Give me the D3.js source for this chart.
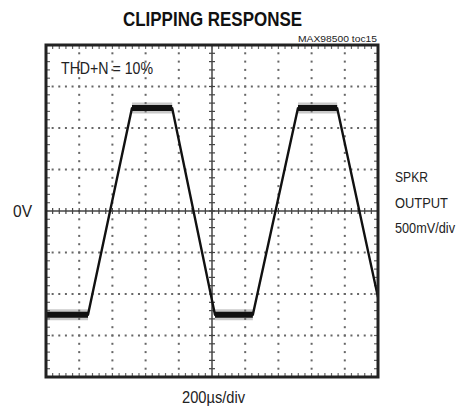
<!DOCTYPE html>
<html>
<head>
  <meta charset="utf-8">
  <style>
    body { margin: 0; background: #fff; }
    svg text { font-family: "Liberation Sans", Arial, sans-serif; fill: #222; }
  </style>
</head>
<body>
  <svg width="468" height="412"></svg>
  <script src="https://cdn.jsdelivr.net/npm/d3@7"></script>
  <script>
    // waveform corners (time in us, level in V)
    var timeUs = [0, 253, 518, 760, 1018, 1246, 1518, 1754, 2000];
    var volts = [-1.25, -1.25, 1.24, 1.24, -1.25, -1.25, 1.24, 1.24, -1.04];
    // flat (clipped) stretches, as index pairs into the arrays above
    var clipped = [[0, 1], [2, 3], [4, 5], [6, 7]];

    var xDivs = d3.range(0, 2001, 200);    // 200us/div
    var yDivs = d3.range(-2, 2.01, 0.5);   // 500mV/div

    var svg = d3.select("svg"),
      padL = 46, padT = 45, w = 332, h = 332;

    var x = d3.scaleLinear().domain([0, 2000]).range([padL, padL + w]);
    var y = d3.scaleLinear().domain([-2, 2]).range([padT + h, padT]);

    var xMinor = d3.range(0, 2001, 40);
    var yMinor = d3.range(-2, 2.001, 0.1);

    var grid = svg.append("g");

    // dotted graticule
    yDivs.slice(1, -1).filter(function (v) { return v !== 0; }).forEach(function (v) {
      grid.append("g").selectAll("rect")
        .data(xMinor)
        .enter().append("rect")
        .attr("x", function (d) { return x(d) - 1; })
        .attr("y", y(v) - 1)
        .attr("width", 2).attr("height", 2)
        .attr("fill", "#666");
    });
    xDivs.slice(1, -1).filter(function (v) { return v !== 1000; }).forEach(function (v) {
      grid.append("g").selectAll("rect")
        .data(yMinor)
        .enter().append("rect")
        .attr("x", x(v) - 1)
        .attr("y", function (d) { return y(d) - 1; })
        .attr("width", 2).attr("height", 2)
        .attr("fill", "#666");
    });

    // centre cross with minor ticks
    grid.append("line")
      .attr("x1", x(0)).attr("x2", x(2000))
      .attr("y1", y(0)).attr("y2", y(0))
      .attr("stroke", "#444").attr("stroke-width", 1.5);
    grid.append("line")
      .attr("x1", x(1000)).attr("x2", x(1000))
      .attr("y1", y(-2)).attr("y2", y(2))
      .attr("stroke", "#444").attr("stroke-width", 1.5);
    grid.append("g").selectAll("line")
      .data(xMinor)
      .enter().append("line")
      .attr("x1", x).attr("x2", x)
      .attr("y1", y(0) - 3).attr("y2", y(0) + 3)
      .attr("stroke", "#444").attr("stroke-width", 1.2);
    grid.append("g").selectAll("line")
      .data(yMinor)
      .enter().append("line")
      .attr("y1", y).attr("y2", y)
      .attr("x1", x(1000) - 3).attr("x2", x(1000) + 3)
      .attr("stroke", "#444").attr("stroke-width", 1.2);

    // minor ticks on the inside of the frame
    [y(2), y(-2)].forEach(function (yy, i) {
      grid.append("g").selectAll("line")
        .data(xMinor)
        .enter().append("line")
        .attr("x1", x).attr("x2", x)
        .attr("y1", yy).attr("y2", i ? yy - 4 : yy + 4)
        .attr("stroke", "#666").attr("stroke-width", 1.2);
    });
    [x(0), x(2000)].forEach(function (xx, i) {
      grid.append("g").selectAll("line")
        .data(yMinor)
        .enter().append("line")
        .attr("y1", y).attr("y2", y)
        .attr("x1", xx).attr("x2", i ? xx - 4 : xx + 4)
        .attr("stroke", "#666").attr("stroke-width", 1.2);
    });

    // trace
    var pts = timeUs.map(function (t, i) { return [t, volts[i]]; });
    var line = d3.line().x(function (d) { return x(d[0]); }).y(function (d) { return y(d[1]); });

    svg.append("clipPath").attr("id", "scr")
      .append("rect").attr("x", padL).attr("y", padT).attr("width", w).attr("height", h);

    var trace = svg.append("g").attr("clip-path", "url(#scr)");

    // noisy band on the clipped parts
    clipped.forEach(function (seg) {
      var p = [pts[seg[0]], pts[seg[1]]];
      trace.append("path").attr("d", line(p))
        .attr("fill", "none").attr("stroke", "#777").attr("stroke-width", 11).attr("opacity", 0.4);
      trace.append("path").attr("d", line(p))
        .attr("fill", "none").attr("stroke", "#111").attr("stroke-width", 6);
    });

    trace.append("path")
      .attr("d", line(pts))
      .attr("fill", "none")
      .attr("stroke", "#111")
      .attr("stroke-width", 2.4)
      .attr("stroke-linejoin", "round");

    // frame
    svg.append("rect")
      .attr("x", padL).attr("y", padT).attr("width", w).attr("height", h)
      .attr("fill", "none").attr("stroke", "#222").attr("stroke-width", 3);

    // texts (condensed look via textLength)
    function label(txt, xx, yy, size, len, bold) {
      return svg.append("text")
        .attr("x", xx).attr("y", yy)
        .attr("font-weight", bold ? "bold" : "normal")
        .attr("textLength", len)
        .attr("lengthAdjust", "spacingAndGlyphs")
        .style("font-size", size + "px")
        .text(txt);
    }

    label("CLIPPING RESPONSE", 123, 26, 21, 179, true).style("fill", "#111");
    label("MAX98500 toc15", 298, 42, 9, 79);
    label("THD+N = 10%", 61, 74, 17, 92);
    label("0V", 13, y(0) + 6, 17, 19);

    var side = ["SPKR", "OUTPUT", "500mV/div"],
      sideLen = [33, 53, 60];
    side.forEach(function (s, i) {
      label(s, 395, 182 + i * 25.5, 15, sideLen[i]);
    });

    label("200\u00b5s/div", 182, 403, 17, 63);
  </script>
</body>
</html>
